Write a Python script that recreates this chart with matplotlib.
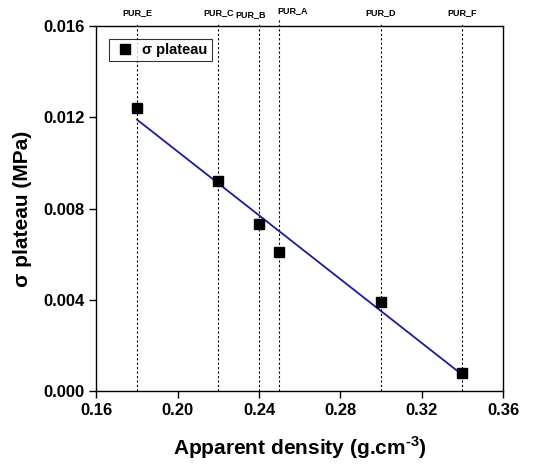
import matplotlib
matplotlib.use('Agg')
import matplotlib.pyplot as plt

density = [0.18, 0.22, 0.24, 0.25, 0.30, 0.34]
plateau = [0.0124, 0.0092, 0.0073, 0.0061, 0.0039, 0.0008]
names = ['PUR_E', 'PUR_C', 'PUR_B', 'PUR_A', 'PUR_D', 'PUR_F']
fit_x = [0.18, 0.34]
fit_y = [0.0119, 0.0007]

plt.rcParams['font.family'] = ['Liberation Sans', 'DejaVu Sans']
plt.rcParams['font.weight'] = 'bold'
plt.rcParams['mathtext.fontset'] = 'custom'
plt.rcParams['mathtext.rm'] = 'Liberation Sans:bold'
plt.rcParams['mathtext.bf'] = 'Liberation Sans:bold'

fig = plt.figure(figsize=(5.41, 4.67), dpi=100)
ax = fig.add_axes([0.178, 0.163, 0.752, 0.781])

# label offsets (points) relative to the top of each dotted line
label_dx = {'PUR_B': -6, 'PUR_A': -1.5}
label_dy = {'PUR_B': 5, 'PUR_A': 8}
for x, name in zip(density, names):
    top = 0.0163 if name == 'PUR_A' else 0.01618
    ax.plot([x, x], [0, top], color='black', lw=0.8, ls=(0, (2, 2)), clip_on=False, zorder=1)
    ha = 'left' if name == 'PUR_A' else 'center'
    ax.annotate(name, xy=(x, 1), xycoords=('data', 'axes fraction'),
                xytext=(label_dx.get(name, 0), label_dy.get(name, 6.5)), textcoords='offset points',
                ha=ha, va='bottom', fontsize=6.5, fontweight='bold', annotation_clip=False)

ax.plot(fit_x, fit_y, color='#1a1aa0', lw=1.3, zorder=2)
ax.plot(density, plateau, 's', color='black', ms=6.5, label='σ plateau', zorder=3)

ax.set_xlim(0.16, 0.36)
ax.set_ylim(0, 0.016)
ax.set_xticks([0.16, 0.20, 0.24, 0.28, 0.32, 0.36])
ax.set_yticks([0, 0.004, 0.008, 0.012, 0.016])
ax.xaxis.set_major_formatter(plt.FormatStrFormatter('%.2f'))
ax.yaxis.set_major_formatter(plt.FormatStrFormatter('%.3f'))
ax.tick_params(direction='out', length=5, width=1, labelsize=12)
for s in ax.spines.values():
    s.set_linewidth(1)

ax.set_xlabel('Apparent density (g.cm$^{\\text{-3}}$)', fontsize=15, fontweight='bold', labelpad=12)
ax.set_ylabel('σ plateau (MPa)', fontsize=15, fontweight='bold', labelpad=8)

leg = ax.legend(loc='upper left', prop={'weight': 'bold', 'size': 10.5},
                fancybox=False, edgecolor='black', handlelength=1.6, handletextpad=0.4,
                borderaxespad=0.85, borderpad=0.3)
leg.get_frame().set_linewidth(0.8)

plt.savefig('out.png', dpi=100)
